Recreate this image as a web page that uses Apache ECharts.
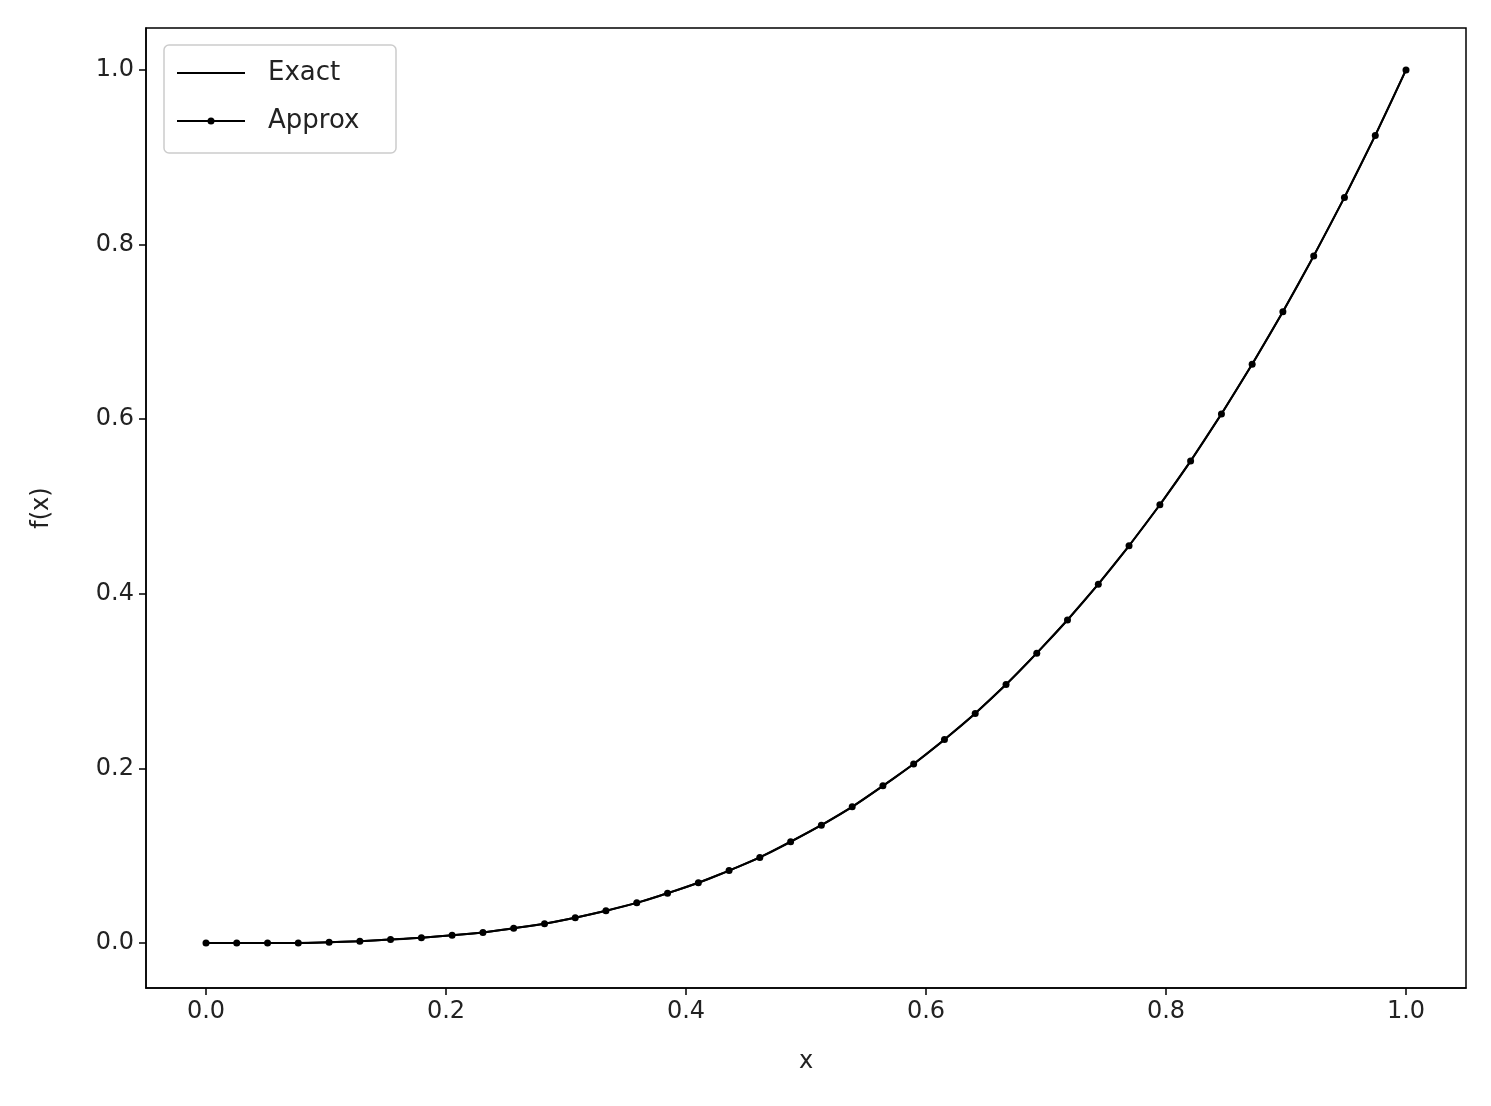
<!DOCTYPE html>
<html><head><meta charset="utf-8">
<script src="https://cdn.jsdelivr.net/npm/echarts@6/dist/echarts.min.js"></script>
<style>html,body{margin:0;background:#fff}#c{width:1491px;height:1106px}</style>
</head><body><div id="c"></div>
<script>
const xs = [0,0.0256,0.0513,0.0769,0.1026,0.1282,0.1538,0.1795,0.2051,0.2308,0.2564,0.2821,0.3077,0.3333,0.359,0.3846,0.4103,0.4359,0.4615,0.4872,0.5128,0.5385,0.5641,0.5897,0.6154,0.641,0.6667,0.6923,0.7179,0.7436,0.7692,0.7949,0.8205,0.8462,0.8718,0.8974,0.9231,0.9487,0.9744,1]
const exact = [0,0.000,0.000,0.000,0.001,0.002,0.004,0.006,0.009,0.012,0.017,0.022,0.029,0.037,0.046,0.057,0.069,0.083,0.098,0.116,0.135,0.156,0.180,0.205,0.233,0.263,0.296,0.332,0.370,0.411,0.455,0.502,0.552,0.606,0.663,0.723,0.787,0.854,0.925,1.0]
const approx = [0,0.000,0.000,0.000,0.001,0.002,0.004,0.006,0.009,0.012,0.017,0.022,0.029,0.037,0.046,0.057,0.069,0.083,0.098,0.116,0.135,0.156,0.180,0.205,0.233,0.263,0.296,0.332,0.370,0.411,0.455,0.502,0.552,0.606,0.663,0.723,0.787,0.854,0.925,1.0]
const ticks = [0,0.2,0.4,0.6,0.8,1.0]

const font = 'DejaVu Sans'
const axisCommon = {
  axisLine: {show: true, onZero: false, lineStyle: {color: '#000', width: 1.5}},
  axisTick: {show: true, length: 7, lineStyle: {color: '#000', width: 1.5}, customValues: ticks},
  axisLabel: {color: '#222', fontFamily: font, fontSize: 24, margin: 12, customValues: ticks, formatter: v => v.toFixed(1)},
  splitLine: {show: false},
  nameTextStyle: {color: '#222', fontFamily: font, fontSize: 24}
}
const txt = {fontFamily: font, fontSize: 26, fill: '#222'}
const chart = echarts.init(document.getElementById('c'))
chart.setOption({
  animation: false,
  grid: {left: 146, right: 25, top: 28, bottom: 118, show: true, borderColor: '#000', borderWidth: 1.5},
  graphic: [
    {type: 'rect', shape: {x: 164, y: 45, width: 232, height: 108, r: 5}, style: {fill: '#fff', stroke: '#ccc', lineWidth: 1.5}, z: 100},
    {type: 'line', shape: {x1: 177, y1: 73, x2: 245, y2: 73}, style: {stroke: '#000', lineWidth: 2}, z: 101},
    {type: 'text', x: 268, y: 73, style: Object.assign({text: 'Exact', verticalAlign: 'middle'}, txt), z: 101},
    {type: 'line', shape: {x1: 177, y1: 121, x2: 245, y2: 121}, style: {stroke: '#000', lineWidth: 2}, z: 101},
    {type: 'circle', shape: {cx: 211, cy: 121, r: 3.5}, style: {fill: '#000'}, z: 101},
    {type: 'text', x: 268, y: 121, style: Object.assign({text: 'Approx', verticalAlign: 'middle'}, txt), z: 101}
  ],
  xAxis: Object.assign({type: 'value', min: -0.05, max: 1.05, name: 'x', nameLocation: 'middle', nameGap: 62}, axisCommon),
  yAxis: Object.assign({type: 'value', min: -0.0515, max: 1.048, name: 'f(x)', nameLocation: 'middle', nameGap: 92}, axisCommon),
  series: [
    {name: 'Exact', type: 'line', smooth: true, symbol: 'none', color: '#000',
      lineStyle: {width: 2, color: '#000'}, data: xs.map((x, i) => [x, exact[i]])},
    {name: 'Approx', type: 'line', symbol: 'circle', symbolSize: 7, color: '#000',
      itemStyle: {color: '#000'}, lineStyle: {width: 2, color: '#000'}, data: xs.map((x, i) => [x, approx[i]])}
  ]
})
</script></body></html>
